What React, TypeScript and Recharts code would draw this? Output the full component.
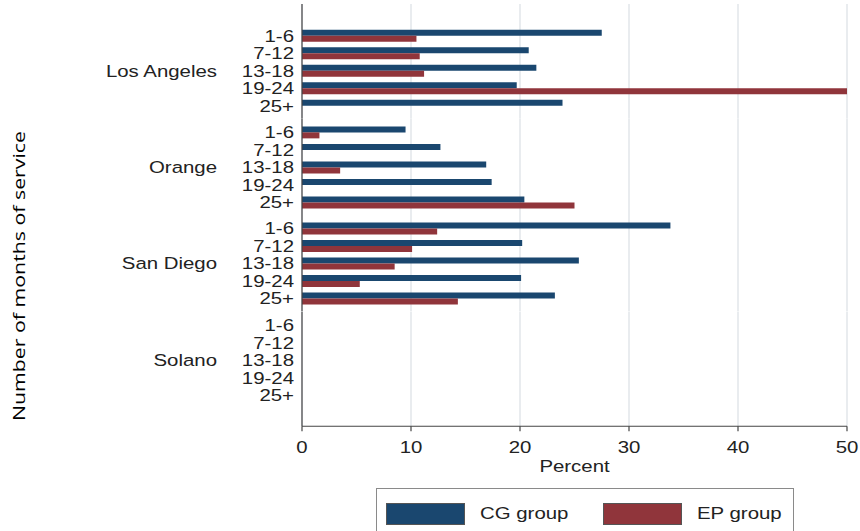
import React from 'react';
import { BarChart, Bar, XAxis, YAxis, CartesianGrid } from 'recharts';

// ---- data ----
const cities = ['Los Angeles', 'Orange', 'San Diego', 'Solano'];
const monthBands = ['1-6', '7-12', '13-18', '19-24', '25+'];
const cgLosAngeles = [27.5, 20.8, 21.5, 19.7, 23.9];
const epLosAngeles = [10.5, 10.8, 11.2, 50.0, 0];
const cgOrange = [9.5, 12.7, 16.9, 17.4, 20.4];
const epOrange = [1.6, 0, 3.5, 0, 25.0];
const cgSanDiego = [33.8, 20.2, 25.4, 20.1, 23.2];
const epSanDiego = [12.4, 10.1, 8.5, 5.3, 14.3];
const cgSolano = [0, 0, 0, 0, 0];
const epSolano = [0, 0, 0, 0, 0];
const xTicks = [0, 10, 20, 30, 40, 50];
const seriesNames = ['CG group', 'EP group'];
const seriesColors = ['#1a476f', '#90353b'];
const xAxisTitle = 'Percent';
const yAxisTitle = 'Number of months of service';

const cgByCity = [cgLosAngeles, cgOrange, cgSanDiego, cgSolano];
const epByCity = [epLosAngeles, epOrange, epSanDiego, epSolano];

// ---- layout ----
const W = 860;
const PLOT_LEFT = 302;
const PLOT_RIGHT = 847;
const FONT = '"Liberation Sans", Arial, sans-serif';
const FS = 17;
const SX = 1.2;
const TXT = '#222';
const AXIS = '#444';
const GRID = '#d3d9df';

const chartLayout = [
  { top: 4, plotH: 114.75, padTop: 22.625, padBottom: 4.375, showX: false },
  { top: 118.75, plotH: 96.5, padTop: 4.375, padBottom: 4.375, showX: false },
  { top: 215.25, plotH: 96.5, padTop: 4.375, padBottom: 4.375, showX: false },
  { top: 311.75, plotH: 114.25, padTop: 4.375, padBottom: 22.125, showX: true },
];
const X_AXIS_H = 60;

function MonthTick(props: any, city: string) {
  const { x, y, payload, index } = props;
  return (
    <g transform={`translate(${x},${y})`}>
      <text
        transform={`scale(${SX},1)`}
        textAnchor="end"
        dy="0.36em"
        fontFamily={FONT}
        fontSize={FS}
        fill={TXT}
      >
        {payload.value}
      </text>
      {index === 2 ? (
        <text
          transform={`translate(-77,0) scale(${SX},1)`}
          textAnchor="end"
          dy="0.36em"
          fontFamily={FONT}
          fontSize={FS}
          fill={TXT}
        >
          {city}
        </text>
      ) : null}
    </g>
  );
}

function PercentTick(props: any) {
  const { x, y, payload } = props;
  return (
    <g transform={`translate(${x},${y})`}>
      <text
        transform={`scale(${SX},1)`}
        textAnchor="middle"
        y={18}
        fontFamily={FONT}
        fontSize={FS}
        fill={TXT}
      >
        {payload.value}
      </text>
    </g>
  );
}

function CityChart({ ci }: { ci: number }) {
  const L = chartLayout[ci];
  const data = monthBands.map((m, i) => ({
    months: m,
    cg: cgByCity[ci][i],
    ep: epByCity[ci][i],
  }));
  const height = L.plotH + (L.showX ? X_AXIS_H : 0);
  return (
    <div style={{ position: 'absolute', left: 0, top: L.top, width: W, height }}>
      <BarChart
        width={W}
        height={height}
        data={data}
        layout="vertical"
        margin={{ top: 0, right: W - PLOT_RIGHT, bottom: 0, left: 0 }}
        barCategoryGap={3}
        barGap={0}
      >
        <CartesianGrid horizontal={false} vertical={true} stroke={GRID} strokeWidth={1} />
        <XAxis
          type="number"
          domain={[0, 50]}
          ticks={xTicks}
          hide={!L.showX}
          height={L.showX ? X_AXIS_H : 0}
          axisLine={{ stroke: AXIS, strokeWidth: 1.2 }}
          tickLine={{ stroke: AXIS, strokeWidth: 1.2 }}
          tickSize={5}
          tickMargin={4}
          tick={PercentTick}
          interval={0}
          label={{
            content: (p: any) => {
              const vb = p.viewBox || {};
              return (
                <g transform={`translate(${vb.x + vb.width / 2},${vb.y + 46})`}>
                  <text transform={`scale(${SX},1)`} textAnchor="middle" fontFamily={FONT} fontSize={FS} fill={TXT}>
                    {xAxisTitle}
                  </text>
                </g>
              );
            },
          }}
        />
        <YAxis
          type="category"
          dataKey="months"
          width={PLOT_LEFT}
          padding={{ top: L.padTop, bottom: L.padBottom }}
          axisLine={{ stroke: AXIS, strokeWidth: 1.2 }}
          tickLine={false}
          tickSize={0}
          tickMargin={8}
          interval={0}
          tick={(p: any) => MonthTick(p, cities[ci])}
        />
        <Bar dataKey="cg" name={seriesNames[0]} fill={seriesColors[0]} isAnimationActive={false} />
        <Bar dataKey="ep" name={seriesNames[1]} fill={seriesColors[1]} isAnimationActive={false} />
      </BarChart>
    </div>
  );
}

function LegendBox() {
  const items = seriesNames.map((n, i) => ({ name: n, color: seriesColors[i] }));
  const swatchLeft = [9, 226];
  return (
    <div
      style={{
        position: 'absolute',
        left: 376,
        top: 488,
        width: 418,
        height: 60,
        border: '1px solid #8a8a8a',
        background: '#fff',
        boxSizing: 'border-box',
      }}
    >
      {items.map((it, i) => (
        <React.Fragment key={it.name}>
          <div
            style={{
              position: 'absolute',
              left: swatchLeft[i],
              top: 14,
              width: 79,
              height: 22,
              background: it.color,
              border: '1px solid #555',
              boxSizing: 'border-box',
            }}
          />
          <div
            style={{
              position: 'absolute',
              left: swatchLeft[i] + 94,
              top: 14,
              height: 22,
              lineHeight: '22px',
              fontFamily: FONT,
              fontSize: FS,
              color: TXT,
              whiteSpace: 'nowrap',
              transform: `scaleX(${SX})`,
              transformOrigin: 'left center',
            }}
          >
            {it.name}
          </div>
        </React.Fragment>
      ))}
    </div>
  );
}

export default function App() {
  return (
    <div style={{ position: 'absolute', left: 0, top: 0, width: W, height: 531, background: '#fff', overflow: 'hidden' }}>
      <svg width={40} height={531} style={{ position: 'absolute', left: 0, top: 0 }}>
        <text
          transform="translate(25,276) rotate(-90)"
          textAnchor="middle"
          fontFamily='"Open Sans", sans-serif'
          fontSize={16}
          fill="#000"
          textLength={290}
          lengthAdjust="spacingAndGlyphs"
        >
          {yAxisTitle}
        </text>
      </svg>
      {cities.map((c, i) => (
        <CityChart key={c} ci={i} />
      ))}
      <LegendBox />
    </div>
  );
}
